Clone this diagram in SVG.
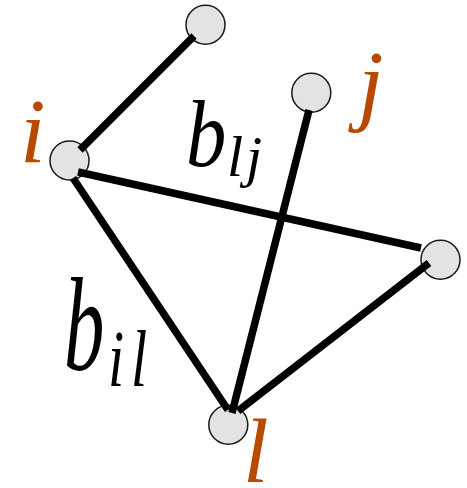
<svg xmlns="http://www.w3.org/2000/svg" width="467" height="488" viewBox="0 0 467 488">
<style>
.node{fill:#e3e3e3;stroke:#1a1a1a;stroke-width:1.5}
.edge{stroke:#000;stroke-width:7.5;stroke-linecap:butt;fill:none}
.lab{font-family:'Liberation Serif','DejaVu Serif',serif;font-style:italic;fill:#b84a00;font-size:92px}
.math{font-family:'Liberation Serif','DejaVu Serif',serif;font-style:italic;fill:#000}
</style>
<rect width="467" height="488" fill="#fff"/>
<g id="n_top"><circle class="node" cx="205.5" cy="24.7" r="19.5"/></g>
<g id="n_j"><circle class="node" cx="311.3" cy="92.8" r="19.5"/></g>
<g id="n_i"><circle class="node" cx="69.5" cy="160.5" r="19.5"/></g>
<g id="n_r"><circle class="node" cx="440.5" cy="259.7" r="19.5"/></g>
<g id="n_l"><circle class="node" cx="228.3" cy="424.7" r="19.5"/></g>
<g id="edges">
<line class="edge" x1="194" y1="36" x2="80" y2="150"/>
<line class="edge" x1="78" y1="172" x2="421" y2="248"/>
<line class="edge" x1="73" y1="178" x2="228" y2="410"/>
<line class="edge" x1="309" y1="110" x2="232" y2="413"/>
<line class="edge" x1="429" y1="263" x2="238" y2="411"/>
</g>
<g id="labels">
<text class="lab" x="20" y="162">i</text>
<text class="lab" x="358" y="114">j</text>
<text class="lab" x="243" y="482">l</text>
<g transform="translate(186,166) scale(0.85,1)"><text class="math" font-size="95">b</text></g>
<text class="math" x="227" y="176" font-size="58">l</text>
<text class="math" x="246" y="176" font-size="58">j</text>
<g transform="translate(64,370) scale(0.85,1.4)"><text class="math" font-size="95">b</text></g>
<g transform="translate(108,386) scale(1,1.4)"><text class="math" font-size="58">i</text></g>
<g transform="translate(131,386) scale(1,1.4)"><text class="math" font-size="58">l</text></g>
</g>
</svg>
